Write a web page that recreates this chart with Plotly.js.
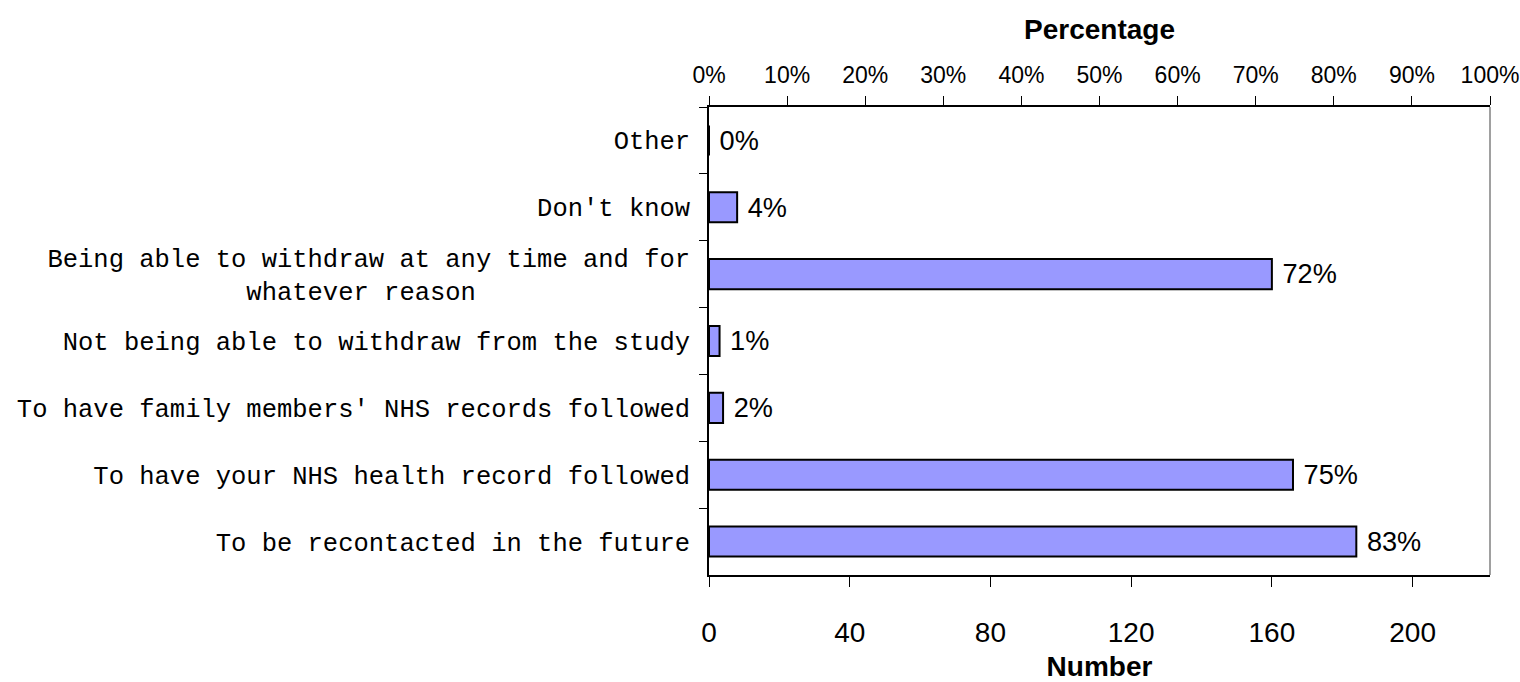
<!DOCTYPE html>
<html>
<head>
<meta charset="utf-8">
<script src="https://cdn.plot.ly/plotly-3.0.1.min.js"></script>
<style>html,body{margin:0;padding:0;background:#fff;}</style>
</head>
<body>
<div id="chart" style="width:1520px;height:682px;"></div>
<script>
// Categories, top to bottom
const categories = [
  "Other",
  "Don't know",
  "Being able to withdraw at any time and for<br>whatever reason\u00A0\u00A0\u00A0\u00A0\u00A0\u00A0\u00A0\u00A0\u00A0\u00A0\u00A0\u00A0\u00A0\u00A0",
  "Not being able to withdraw from the study",
  "To have family members' NHS records followed",
  "To have your NHS health record followed",
  "To be recontacted in the future"
];
// Number of respondents
const counts = [0, 8, 160, 3, 4, 166, 184];
// Percentage labels as printed
const pctLabels = ["0%", "4%", "72%", "1%", "2%", "75%", "83%"];
// Axis ticks
const numberTicks = [0, 40, 80, 120, 160, 200];
const pctTicks = [0, 10, 20, 30, 40, 50, 60, 70, 80, 90, 100];
const totalN = 222;

const traces = [{
  type: 'bar',
  orientation: 'h',
  x: counts,
  y: categories,
  width: 0.45,
  marker: {color: '#9999FF', line: {color: '#000000', width: 2}},
  text: pctLabels,
  texttemplate: '\u00A0%{text}',
  textposition: 'outside',
  textfont: {family: 'Arial, Liberation Sans, sans-serif', size: 28, color: '#000'},
  cliponaxis: false,
  hoverinfo: 'x+y'
}, {
  type: 'scatter',
  mode: 'markers',
  x: [pctTicks[0]],
  y: [categories[0]],
  xaxis: 'x2',
  marker: {opacity: 0},
  hoverinfo: 'skip',
  showlegend: false
}];

const layout = {
  width: 1520,
  height: 682,
  margin: {l: 709, r: 30, t: 107, b: 107},
  paper_bgcolor: '#ffffff',
  plot_bgcolor: '#ffffff',
  showlegend: false,
  font: {family: 'Arial, Liberation Sans, sans-serif', color: '#000'},
  bargap: 0.55,
  xaxis: {
    range: [0, totalN],
    tickvals: numberTicks,
    ticktext: numberTicks.map(String),
    ticks: 'outside', ticklen: 10, tickwidth: 1, tickcolor: '#000',
    showline: true, linecolor: '#000', linewidth: 1.5,
    showgrid: false, zeroline: false,
    tickfont: {size: 28},
    ticklabelstandoff: 22,
    automargin: false,
    title: {text: '<b>Number</b>', font: {size: 28}, standoff: 10}
  },
  xaxis2: {
    overlaying: 'x',
    side: 'top',
    anchor: 'y',
    range: [0, 100],
    tickvals: pctTicks,
    ticktext: pctTicks.map(v => v + '%'),
    ticks: 'outside', ticklen: 9, tickwidth: 1, tickcolor: '#000',
    showline: true, linecolor: '#000', linewidth: 1.5,
    showgrid: false, zeroline: false,
    tickfont: {size: 23},
    ticklabelstandoff: 4,
    automargin: false,
    title: {text: '<b>Percentage</b>', font: {size: 28}, standoff: 14}
  },
  yaxis: {
    autorange: 'reversed',
    type: 'category',
    ticks: 'outside', ticklen: 8, tickwidth: 1, tickcolor: '#000',
    tickson: 'boundaries',
    showline: true, linecolor: '#000', linewidth: 1.5,
    showgrid: false, zeroline: false,
    tickfont: {family: 'Liberation Mono, Courier New, monospace', size: 25.5},
    ticklabelstandoff: 12,
    automargin: false
  },
  shapes: [{
    type: 'line', xref: 'paper', yref: 'paper',
    x0: 1, x1: 1, y0: 0, y1: 1,
    line: {color: '#808080', width: 1.5}
  }]
};

Plotly.newPlot('chart', traces, layout, {displayModeBar: false, responsive: false});
</script>
</body>
</html>
